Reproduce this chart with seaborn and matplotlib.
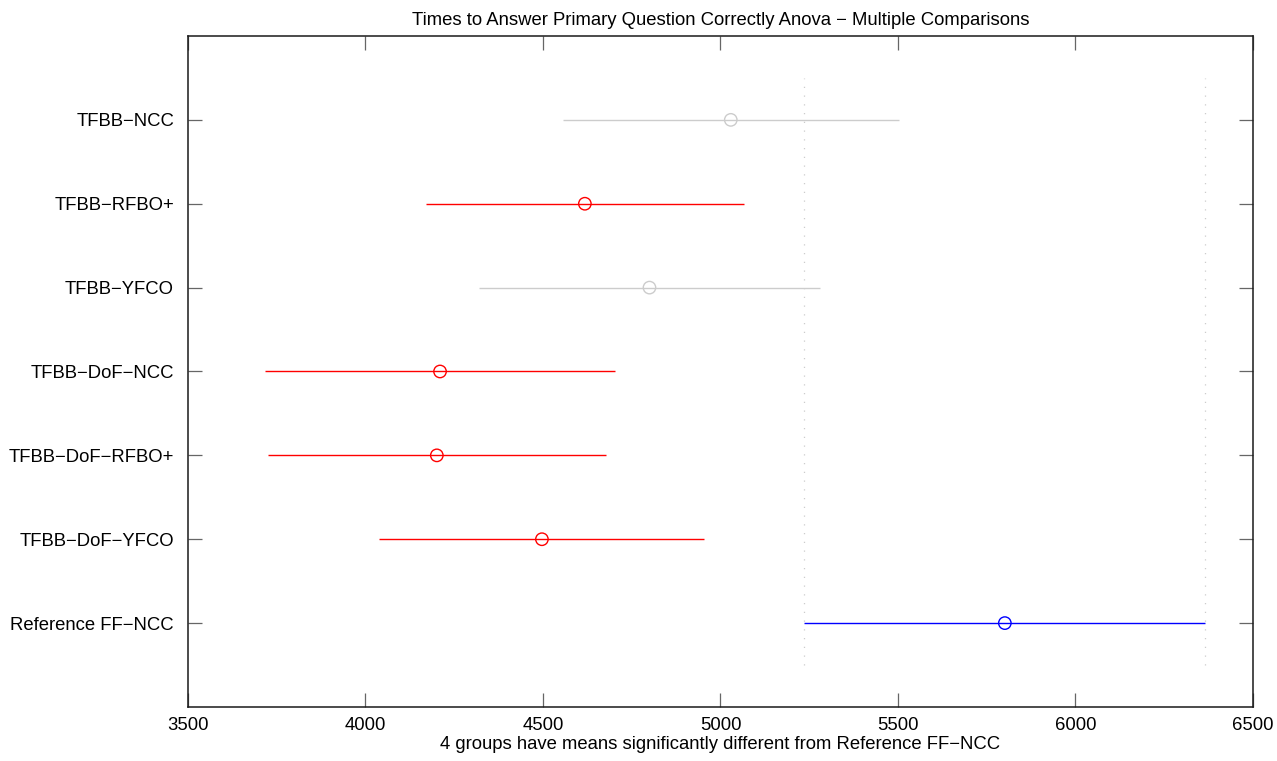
import numpy as np
import pandas as pd
import matplotlib
matplotlib.use("Agg")
import matplotlib.pyplot as plt
import seaborn as sns

# Group names, listed from the bottom row to the top row
groups = ["Reference FF\u2212NCC", "TFBB\u2212DoF\u2212YFCO", "TFBB\u2212DoF\u2212RFBO+",
          "TFBB\u2212DoF\u2212NCC", "TFBB\u2212YFCO", "TFBB\u2212RFBO+", "TFBB\u2212NCC"]
# Group means and comparison interval bounds (ms)
means = [5801, 4497, 4201, 4210, 4800, 4618, 5029]
lower = [5236, 4037, 3725, 3718, 4319, 4171, 4557]
upper = [6365, 4954, 4678, 4702, 5281, 5066, 5502]
# Status of each group relative to the reference group
status = ["reference", "different", "different", "different", "same", "different", "same"]

xticks = [3500, 4000, 4500, 5000, 5500, 6000, 6500]
title = "Times to Answer Primary Question Correctly Anova \u2212 Multiple Comparisons"
xlabel = "4 groups have means significantly different from Reference FF\u2212NCC"

palette = {"reference": "#0000ff", "different": "#ff0000", "same": "#cccccc"}

df = pd.DataFrame({"group": groups, "mean": means, "lower": lower,
                   "upper": upper, "status": status})
df["row"] = np.arange(1, len(groups) + 1)

sns.set_style("white")
plt.rcParams["font.family"] = ["Liberation Sans", "DejaVu Sans"]
plt.rcParams["text.color"] = "black"
plt.rcParams["axes.labelcolor"] = "black"

fig = plt.figure(figsize=(12.77, 7.61), dpi=100)
ax = fig.add_axes([0.1472, 0.0710, 0.8340, 0.8817])

# Reference interval bounds shown as dotted vertical guides
ref = df[df["status"] == "reference"].iloc[0]
ax.vlines([ref["lower"], ref["upper"]], 0.5, len(groups) + 0.5,
          colors="#cccccc", linestyles=(0, (1, 6)), linewidth=0.9, zorder=1)

# Comparison intervals
for _, r in df.iterrows():
    ax.hlines(r["row"], r["lower"], r["upper"], colors=palette[r["status"]],
              linewidth=1.0, zorder=2)

# Group means as hollow circles
sns.scatterplot(data=df, x="mean", y="row", hue="status", palette=palette,
                marker="o", s=80, legend=False, ax=ax, zorder=3)
coll = ax.collections[-1]
fc = coll.get_facecolors()
coll.set_edgecolors(fc)
coll.set_facecolors("none")
coll.set_linewidth(1.0)

ax.set_xlim(3500, 6500)
ax.set_ylim(0, len(groups) + 1)
ax.set_xticks(xticks)
ax.set_xticklabels([str(t) for t in xticks])
ax.set_yticks(df["row"])
ax.set_yticklabels(groups)

ax.tick_params(axis="both", direction="in", length=10, width=0.9,
               color="#666666", labelsize=13.3, labelcolor="black",
               top=True, right=True, bottom=True, left=True)
ax.tick_params(axis="y", pad=10)
ax.tick_params(axis="x", pad=7)
for sp in ax.spines.values():
    sp.set_visible(True)
    sp.set_color("#1a1a1a")
    sp.set_linewidth(1.1)

ax.set_title(title, fontsize=13.3, pad=8, color="black")
ax.set_xlabel(xlabel, fontsize=13.3, labelpad=2, color="black")
ax.set_ylabel("")

fig.savefig("out.png", dpi=100, facecolor="white")
